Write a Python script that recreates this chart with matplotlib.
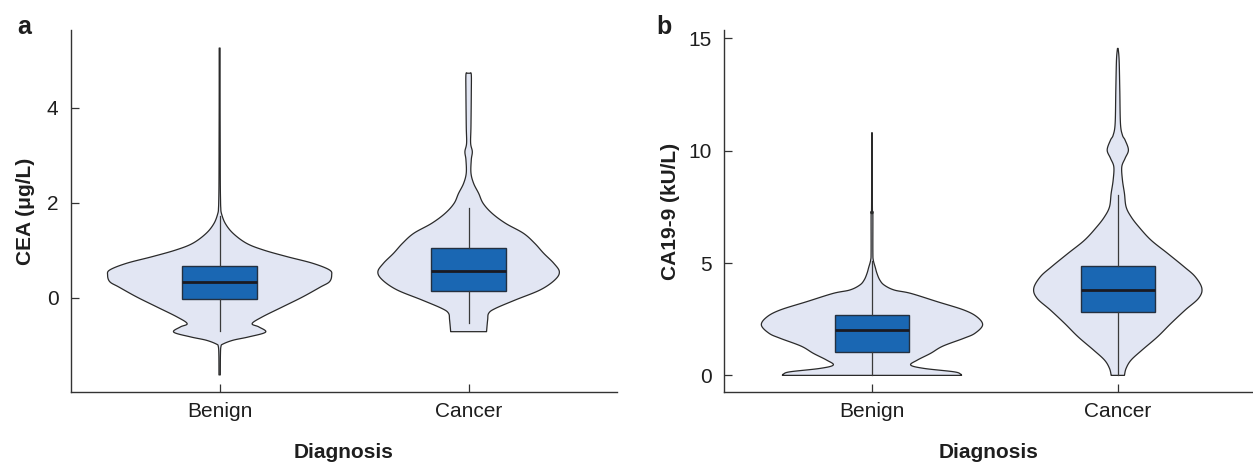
import numpy as np
import matplotlib
matplotlib.use("Agg")
import matplotlib.pyplot as plt
from matplotlib.patches import Polygon

plt.rcParams['font.family'] = ['Liberation Sans', 'DejaVu Sans']

categories = ["Benign", "Cancer"]

# Kernel-density profiles: (value, relative density) per group
cea_benign_vals = [5.26, 4.2, 3.2, 2.4, 2.05, 1.90, 1.78, 1.57, 1.36, 1.15, 1.01, 0.87, 0.73,
                   0.59, 0.48, 0.34, 0.23, 0.02, -0.19, -0.40, -0.54, -0.61, -0.72, -0.82,
                   -0.89, -0.97, -1.02, -1.2, -1.62]
cea_benign_dens = [0.004, 0.004, 0.005, 0.006, 0.008, 0.010, 0.016, 0.05, 0.12, 0.24, 0.39,
                   0.60, 0.83, 0.98, 1.0, 0.98, 0.90, 0.74, 0.56, 0.38, 0.29, 0.35, 0.41,
                   0.26, 0.12, 0.03, 0.012, 0.007, 0.006]
cea_cancer_vals = [4.73, 4.70, 4.31, 3.61, 3.26, 3.08, 2.91, 2.63, 2.41, 2.20, 1.99, 1.78,
                   1.57, 1.36, 1.15, 0.94, 0.73, 0.55, 0.38, 0.17, -0.04, -0.22, -0.32,
                   -0.46, -0.71]
cea_cancer_dens = [0.012, 0.024, 0.024, 0.021, 0.018, 0.033, 0.024, 0.021, 0.045, 0.09, 0.13,
                   0.21, 0.33, 0.49, 0.59, 0.67, 0.76, 0.81, 0.77, 0.64, 0.42, 0.24, 0.18,
                   0.17, 0.16]

ca199_benign_vals = [10.8, 9.0, 7.3, 7.2, 5.5, 5.13, 4.8, 4.54, 4.25, 4.02, 3.80, 3.65, 3.28,
                     2.91, 2.6, 2.24, 1.87, 1.65, 1.3, 0.98, 0.68, 0.46, 0.31, 0.16, 0.06, 0.0]
ca199_benign_dens = [0.002, 0.003, 0.004, 0.008, 0.008, 0.012, 0.03, 0.045, 0.07, 0.11, 0.20,
                     0.35, 0.59, 0.83, 0.95, 1.0, 0.93, 0.83, 0.64, 0.53, 0.41, 0.35, 0.47,
                     0.74, 0.80, 0.81]
ca199_cancer_vals = [14.55, 14.03, 12.70, 11.21, 10.69, 10.47, 10.03, 9.66, 9.28, 8.69, 8.10,
                     7.50, 7.06, 6.61, 6.02, 5.43, 4.83, 4.39, 3.87, 3.43, 2.91, 2.31, 1.72,
                     1.13, 0.68, 0.31, 0.0]
ca199_cancer_dens = [0.003, 0.012, 0.018, 0.024, 0.042, 0.066, 0.096, 0.066, 0.036, 0.042,
                     0.06, 0.075, 0.12, 0.19, 0.30, 0.45, 0.60, 0.70, 0.76, 0.73, 0.61, 0.48,
                     0.36, 0.22, 0.12, 0.075, 0.06]

# Box summaries: whisker low, Q1, median, Q3, whisker high
cea_benign_box = [-0.69, -0.02, 0.33, 0.68, 1.73]
cea_cancer_box = [-0.52, 0.15, 0.57, 1.05, 1.89]
ca199_benign_box = [0.0, 1.02, 2.0, 2.69, 5.1]
ca199_cancer_box = [0.0, 2.83, 3.78, 4.88, 8.03]

cea_yticks = [0, 2, 4]
ca199_yticks = [0, 5, 10, 15]

VIOLIN_FACE = "#e2e6f3"
VIOLIN_EDGE = "#2a2a2a"
BOX_FACE = "#1a67b3"
BOX_EDGE = "#243040"
TEXT = "#1e1e1e"
SPINE = "#333333"

W, H = 1253, 462
fig = plt.figure(figsize=(W / 100, H / 100), dpi=100)

ax_a = fig.add_axes([71 / W, (H - 392) / H, 546 / W, 362 / H])
ax_b = fig.add_axes([724 / W, (H - 392) / H, 529 / W, 362 / H])


def smooth_curve(ys, ws, steps=10):
    """Catmull-Rom rendering of a polyline (for a rounded outline)."""
    p = np.column_stack([ws, ys]).astype(float)
    p = np.vstack([p[0], p, p[-1]])
    out = []
    t = np.linspace(0, 1, steps, endpoint=False)[:, None]
    for i in range(1, len(p) - 2):
        p0, p1, p2, p3 = p[i - 1], p[i], p[i + 1], p[i + 2]
        seg = 0.5 * ((2 * p1) + (-p0 + p2) * t + (2 * p0 - 5 * p1 + 4 * p2 - p3) * t ** 2
                     + (-p0 + 3 * p1 - 3 * p2 + p3) * t ** 3)
        out.append(seg)
    out.append(p[-2][None, :])
    out = np.vstack(out)
    out[:, 0] = np.clip(out[:, 0], 0, None)
    return out[:, 1], out[:, 0]


def draw_violin(ax, pos, vals, dens, half_width=0.45):
    v, d = smooth_curve(np.asarray(vals, float), np.asarray(dens, float) * half_width)
    xs = np.concatenate([pos - d, (pos + d)[::-1]])
    ys = np.concatenate([v, v[::-1]])
    ax.add_patch(Polygon(np.column_stack([xs, ys]), closed=True, facecolor=VIOLIN_FACE,
                         edgecolor=VIOLIN_EDGE, linewidth=0.9, joinstyle="round", zorder=1))


def draw_box(ax, pos, stats):
    lo, q1, med, q3, hi = stats
    ax.bxp([dict(whislo=lo, q1=q1, med=med, q3=q3, whishi=hi, fliers=[])],
           positions=[pos], widths=0.30, patch_artist=True, showcaps=False,
           showfliers=False, manage_ticks=False,
           boxprops=dict(facecolor=BOX_FACE, edgecolor=BOX_EDGE, linewidth=1.0),
           medianprops=dict(color="#1a1a22", linewidth=2.0),
           whiskerprops=dict(color="#3a3a3a", linewidth=0.9),
           zorder=3)


def style_axes(ax, ylabel, yticks, ylim, xlim, ylab_x):
    ax.set_xlim(*xlim)
    ax.set_ylim(*ylim)
    ax.set_xticks([0, 1])
    ax.set_xticklabels(categories)
    ax.set_yticks(yticks)
    for s in ("top", "right"):
        ax.spines[s].set_visible(False)
    for s in ("left", "bottom"):
        ax.spines[s].set_color(SPINE)
        ax.spines[s].set_linewidth(1.0)
    ax.tick_params(direction="in", length=6, width=0.9, color=SPINE,
                   labelsize=15, labelcolor=TEXT, pad=7)
    ax.tick_params(axis="y", pad=9)
    ax.set_xlabel("Diagnosis", fontsize=15, fontweight="bold", color=TEXT)
    ax.xaxis.set_label_coords(0.5, -0.166)
    ax.xaxis.label.set_va("center")
    ax.set_ylabel(ylabel, fontsize=15, fontweight="bold", color=TEXT)
    ax.yaxis.set_label_coords(ylab_x, 0.5)
    ax.yaxis.label.set_va("center")


draw_violin(ax_a, 0, cea_benign_vals, cea_benign_dens)
draw_violin(ax_a, 1, cea_cancer_vals, cea_cancer_dens)
draw_box(ax_a, 0, cea_benign_box)
draw_box(ax_a, 1, cea_cancer_box)
style_axes(ax_a, "CEA (\u03bcg/L)", cea_yticks, (-1.98, 5.64), (-0.597, 1.596), -0.084)

draw_violin(ax_b, 0, ca199_benign_vals, ca199_benign_dens)
draw_violin(ax_b, 1, ca199_cancer_vals, ca199_cancer_dens)
draw_box(ax_b, 0, ca199_benign_box)
draw_box(ax_b, 1, ca199_cancer_box)
style_axes(ax_b, "CA19-9 (kU/L)", ca199_yticks, (-0.74, 15.37), (-0.602, 1.55), -0.102)

fig.text(17 / W, 1 - 34 / H, "a", fontsize=18, fontweight="bold", color=TEXT, va="baseline")
fig.text(656 / W, 1 - 34 / H, "b", fontsize=18, fontweight="bold", color=TEXT, va="baseline")

fig.savefig("out.png", dpi=100)
